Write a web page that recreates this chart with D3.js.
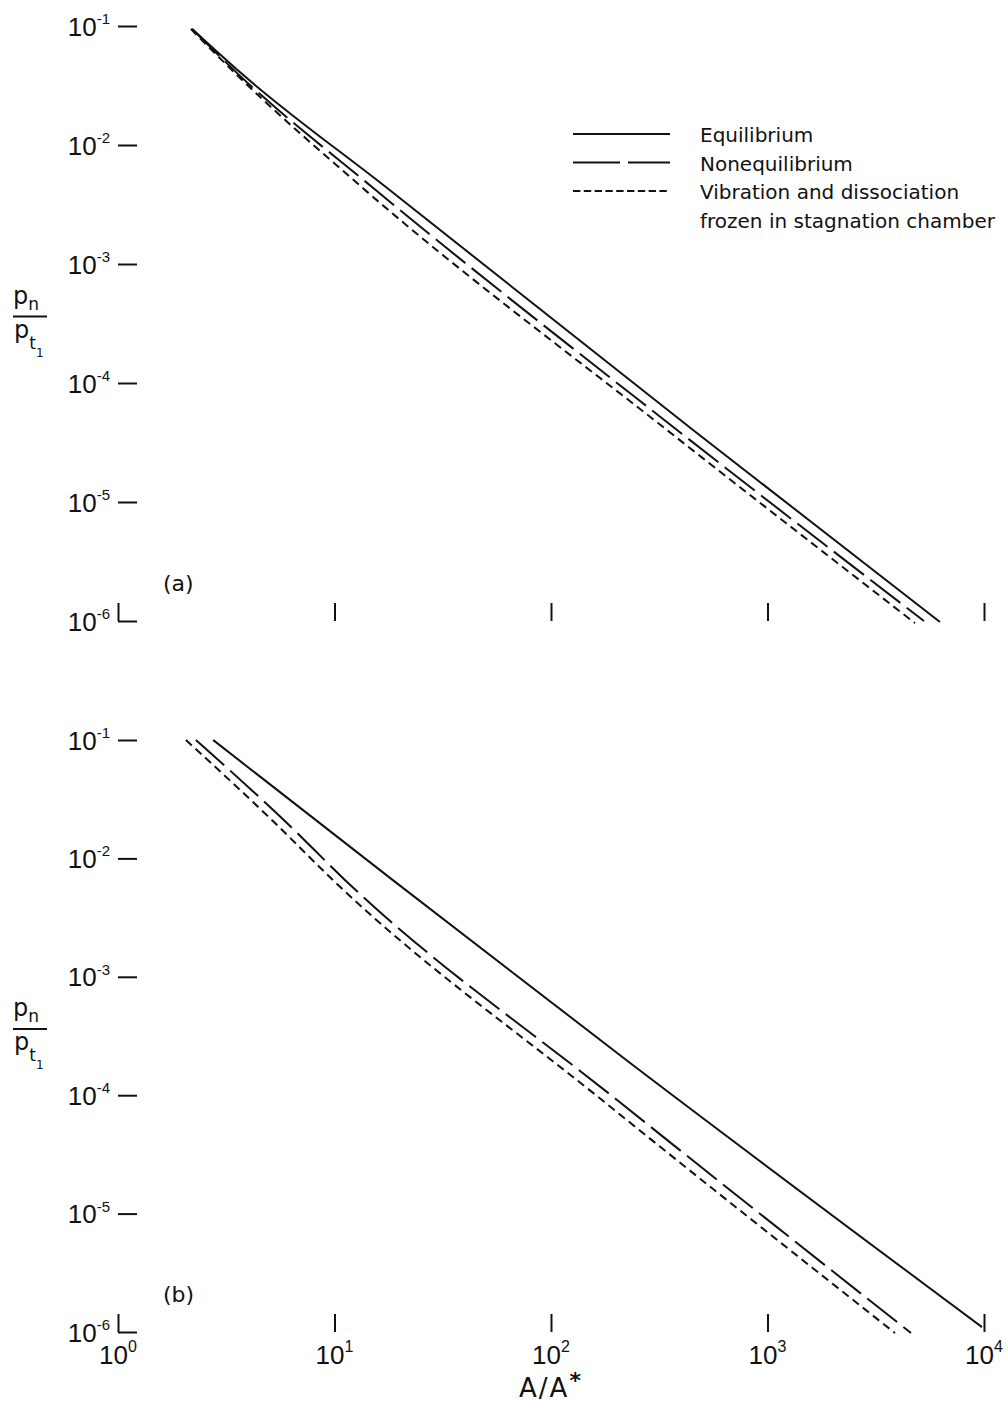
<!DOCTYPE html>
<html>
<head>
<meta charset="utf-8">
<script src="https://cdn.jsdelivr.net/npm/d3@7"></script>
<style>
  body { margin: 0; background: #fff; }
  text { fill: #111; }
</style>
</head>
<body>
<script>
// values, [A/A*, pn/pt1]
var equilibriumA    = [[2.20, 0.0944], [3.70, 0.0402], [17.5, 4.35e-3], [453, 4.03e-5], [6260, 9.8e-7]];
var nonequilibriumA = [[2.20, 0.0944], [3.55, 0.0402], [15.1, 4.35e-3], [382, 4.03e-5], [5280, 1.0e-6]];
var frozenA         = [[2.17, 0.0944], [3.47, 0.0402], [13.5, 4.35e-3], [343, 4.03e-5], [4800, 9.6e-7]];

var equilibriumB    = [[2.75, 0.1], [18.6, 6.55e-3], [232, 1.87e-4], [9790, 1.1e-6]];
var nonequilibriumB = [[2.29, 0.1], [6.03, 0.0199], [11.2, 6.55e-3], [202, 9.1e-5], [4600, 9.8e-7]];
var frozenB         = [[2.06, 0.1], [5.31, 0.0199], [9.84, 6.55e-3], [172, 9.1e-5], [3880, 9.8e-7]];

var xTicks = [1, 10, 100, 1000, 10000];
var xExponents = ["0", "1", "2", "3", "4"];
var yTicks = [1e-1, 1e-2, 1e-3, 1e-4, 1e-5, 1e-6];
var yExponents = ["-1", "-2", "-3", "-4", "-5", "-6"];

var legendLabels = ["Equilibrium", "Nonequilibrium", "Vibration and dissociation", "frozen in stagnation chamber"];

var styles = [null, "38,8", "8,5"];
var legendStyles = [null, "47,8", "7.4,3.4"];

var svg = d3.select("body").append("svg")
    .attr("width", 1007)
    .attr("height", 1403);

var x = d3.scaleLog().domain([1, 1e4]).range([118, 984]);

var panels = [
  {name: "(a)", top: 26, bottom: 621, series: [equilibriumA, nonequilibriumA, frozenA], xLabels: false},
  {name: "(b)", top: 740, bottom: 1332, series: [equilibriumB, nonequilibriumB, frozenB], xLabels: true}
];

var numFont = "'Liberation Sans', Arial, sans-serif";
var txtFont = "'DejaVu Sans', sans-serif";

panels.forEach(function(p) {
  var y = d3.scaleLog().domain([1e-6, 1e-1]).range([p.bottom, p.top]);
  var g = svg.append("g");

  // ticks only, no axis lines
  var yAxis = g.append("g")
      .attr("transform", "translate(" + x(1) + ",0)")
      .call(d3.axisRight(y).tickValues(yTicks).tickSize(19).tickFormat(""));
  var xAxis = g.append("g")
      .attr("transform", "translate(0," + p.bottom + ")")
      .call(d3.axisTop(x).tickValues(xTicks).tickSize(18).tickFormat(""));
  [yAxis, xAxis].forEach(function(a) {
    a.select(".domain").remove();
    a.selectAll(".tick line").attr("stroke", "#111").attr("stroke-width", 2);
  });

  var yl = g.selectAll(".ylab")
    .data(yTicks)
    .enter().append("text")
      .attr("class", "ylab")
      .attr("x", 110)
      .attr("y", function(d) { return y(d) + 9.5; })
      .attr("text-anchor", "end")
      .style("font-family", numFont)
      .style("font-size", "26px")
      .text("10");
  yl.append("tspan")
      .attr("dy", -11.5)
      .style("font-size", "15px")
      .text(function(d, i) { return yExponents[i]; });

  if (p.xLabels) {
    var xl = g.selectAll(".xlab")
      .data(xTicks)
      .enter().append("text")
        .attr("class", "xlab")
        .attr("x", function(d) { return x(d); })
        .attr("y", p.bottom + 32)
        .attr("text-anchor", "middle")
        .style("font-family", numFont)
        .style("font-size", "26px")
        .text("10");
    xl.append("tspan")
        .attr("dy", -12)
        .style("font-size", "16px")
        .text(function(d, i) { return xExponents[i]; });
  }

  var line = d3.line()
      .x(function(d) { return x(d[0]); })
      .y(function(d) { return y(d[1]); })
      .curve(d3.curveMonotoneX);

  p.series.forEach(function(s, i) {
    g.append("path")
        .datum(s)
        .attr("d", line)
        .attr("fill", "none")
        .attr("stroke", "#111")
        .attr("stroke-width", 2)
        .attr("stroke-dasharray", styles[i]);
  });

  g.append("text")
      .attr("x", 163)
      .attr("y", p.bottom - 30)
      .style("font-family", txtFont)
      .style("font-size", "22px")
      .text(p.name);

  // y label pn / pt1
  var mid = (y(1e-3) + y(1e-4)) / 2 - 7;
  var num = g.append("text")
      .attr("x", 13)
      .attr("y", mid - 13)
      .style("font-family", txtFont)
      .style("font-size", "24px")
      .text("p");
  num.append("tspan").attr("dy", 6).style("font-size", "17px").text("n");
  g.append("line")
      .attr("x1", 13).attr("x2", 47)
      .attr("y1", mid).attr("y2", mid)
      .attr("stroke", "#111").attr("stroke-width", 2);
  var den = g.append("text")
      .attr("x", 14)
      .attr("y", mid + 21)
      .style("font-family", txtFont)
      .style("font-size", "24px")
      .text("p");
  den.append("tspan").attr("dy", 11).style("font-size", "17px").text("t");
  den.append("tspan").attr("dy", 8).style("font-size", "12px").text("1");
});

// legend
var legend = svg.append("g");
legendStyles.forEach(function(s, i) {
  legend.append("line")
      .attr("x1", 573).attr("x2", 670)
      .attr("y1", 134 + i * 28.5).attr("y2", 134 + i * 28.5)
      .attr("stroke", "#111")
      .attr("stroke-width", 2)
      .attr("stroke-dasharray", s);
});
legend.selectAll("text")
  .data(legendLabels)
  .enter().append("text")
    .attr("x", 700)
    .attr("y", function(d, i) { return 142 + i * 28.7; })
    .style("font-family", txtFont)
    .style("font-size", "20px")
    .text(function(d) { return d; });

// x axis title
var title = svg.append("text")
    .attr("x", x(100))
    .attr("y", 1397)
    .attr("text-anchor", "middle")
    .style("font-family", txtFont)
    .style("font-size", "26px")
    .style("letter-spacing", "2px")
    .text("A/A");
title.append("tspan")
    .attr("dy", -9)
    .style("font-size", "22px")
    .style("font-weight", "bold")
    .text("*");
</script>
</body>
</html>
